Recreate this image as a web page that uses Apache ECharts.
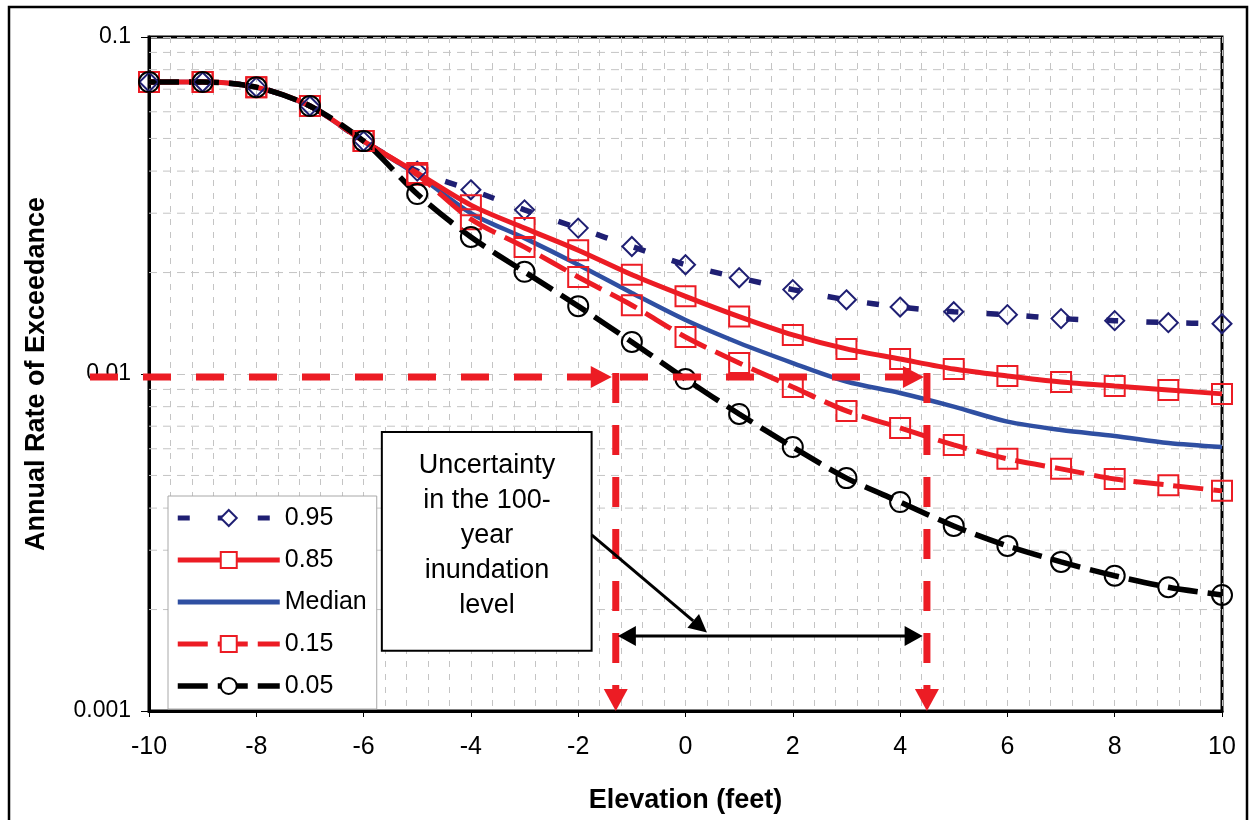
<!DOCTYPE html>
<html>
<head>
<meta charset="utf-8">
<script src="https://cdn.jsdelivr.net/npm/echarts@6/dist/echarts.min.js"></script>
<style>
  html, body { margin: 0; padding: 0; background: #fff; }
  #chart { width: 1257px; height: 820px; }
</style>
</head>
<body>
<div id="chart"></div>
<script>
// Elevation (feet) at which each exceedance curve is sampled
const elevation = [-10, -9, -8, -7, -6, -5, -4, -3, -2, -1, 0, 1, 2, 3, 4, 5, 6, 7, 8, 9, 10];

// Annual rate of exceedance for each confidence level
const p95 = [0.0735, 0.0735, 0.0710, 0.0624, 0.0491, 0.0400, 0.0352, 0.0307, 0.0271, 0.0239, 0.0211,
             0.0193, 0.0178, 0.0166, 0.0158, 0.0153, 0.0150, 0.0146, 0.0144, 0.0142, 0.0141];
const p85 = [0.0735, 0.0735, 0.0710, 0.0624, 0.0491, 0.0395, 0.0317, 0.0271, 0.0233, 0.0197, 0.0170,
             0.0148, 0.01306, 0.01187, 0.01108, 0.01035, 0.00987, 0.00947, 0.00921, 0.00897, 0.00873];
const median = [0.0735, 0.0735, 0.0708, 0.0622, 0.0490, 0.0390, 0.0300, 0.0253, 0.0211, 0.0174, 0.01446,
                0.01236, 0.01078, 0.0095, 0.00878, 0.0080, 0.00722, 0.00682, 0.00655, 0.00624, 0.00607];
const p15 = [0.0735, 0.0735, 0.0710, 0.0624, 0.0491, 0.0390, 0.0288, 0.0238, 0.0194, 0.0160, 0.01288,
             0.01078, 0.00915, 0.00777, 0.00692, 0.00616, 0.0056, 0.00523, 0.00488, 0.00468, 0.0045];
const p05 = [0.0735, 0.0735, 0.0710, 0.0624, 0.0491, 0.0342, 0.0255, 0.0201, 0.0159, 0.01245, 0.00966,
             0.00761, 0.00607, 0.00491, 0.00417, 0.00354, 0.00309, 0.00277, 0.00252, 0.00233, 0.00221];

const seriesNames = ['0.95', '0.85', 'Median', '0.15', '0.05'];

// Axis ticks and log-scale minor grid levels
const xTicks = [-10, -8, -6, -4, -2, 0, 2, 4, 6, 8, 10];
const yTicks = [0.001, 0.01, 0.1];
const minorLevels = [0.002, 0.003, 0.004, 0.005, 0.006, 0.007, 0.008, 0.009,
                     0.02, 0.03, 0.04, 0.05, 0.06, 0.07, 0.08, 0.09];

// 100-year event and the elevation range it spans across the curves
const hundredYearRate = 0.0098;
const rangeBounds = [-1.3, 4.5];
const noteLines = ['Uncertainty', 'in the 100-', 'year', 'inundation', 'level'];

const X_MIN = xTicks[0], X_MAX = xTicks[xTicks.length - 1];
const Y_MIN = yTicks[0], Y_MAX = yTicks[yTicks.length - 1];

const FONT = '"Liberation Sans", Arial, Helvetica, sans-serif';
const RED = '#ec1c24';
const NAVY = '#1f1f73';
const BLUE = '#2f4fa2';
const GRID = '#c4c4c4';
const CLEAR = 'rgba(255,255,255,0)';

function pairs(values) {
  return elevation.map((x, i) => [x, values[i]]);
}

function curve(name, values, color, width, dash, symbol, size) {
  return {
    type: 'line',
    name: name,
    data: pairs(values),
    smooth: 0.3,
    z: 3,
    symbol: symbol,
    symbolSize: size,
    showSymbol: symbol !== 'none',
    lineStyle: { color: color, width: width, type: dash, cap: 'butt' },
    itemStyle: { color: CLEAR, borderColor: color, borderWidth: 2 },
    emphasis: { disabled: true }
  };
}

function arrowHead(tip, from, len, half) {
  const dx = tip[0] - from[0], dy = tip[1] - from[1];
  const d = Math.sqrt(dx * dx + dy * dy) || 1;
  const ux = dx / d, uy = dy / d;
  const bx = tip[0] - ux * len, by = tip[1] - uy * len;
  return [tip, [bx - uy * half, by + ux * half], [bx + uy * half, by - ux * half]];
}

// Dashed grey minor grid at 2..9 of each decade
function renderMinorGrid(params, api) {
  const y = api.value(1);
  const a = api.coord([X_MIN, y]);
  const b = api.coord([X_MAX, y]);
  return {
    type: 'line',
    silent: true,
    shape: { x1: a[0], y1: a[1], x2: b[0], y2: b[1] },
    style: { stroke: GRID, lineWidth: 1, lineDash: [8, 6] }
  };
}

// Red 100-year guide lines, uncertainty range arrow and the note box
function renderAnnotation(params, api) {
  const c = (x, y) => api.coord([x, y]);
  const children = [];
  const hy = c(0, hundredYearRate)[1];
  const bottomY = c(0, Y_MIN)[1];
  const loX = c(rangeBounds[0], hundredYearRate)[0];
  const hiX = c(rangeBounds[1], hundredYearRate)[0];
  const startX = c(-11.1, hundredYearRate)[0];

  // horizontal dashed line to the upper bound
  children.push({
    type: 'line',
    shape: { x1: startX, y1: hy, x2: hiX - 20, y2: hy },
    style: { stroke: RED, lineWidth: 7, lineDash: [28, 25] }
  });
  // right-pointing heads where the line meets each bound
  [loX - 4, hiX - 3].forEach(tx => {
    children.push({
      type: 'polygon',
      shape: { points: arrowHead([tx, hy], [tx - 30, hy], 21, 11) },
      style: { fill: RED }
    });
  });
  // vertical dashed drops to the elevation axis
  [loX, hiX].forEach(vx => {
    children.push({
      type: 'line',
      shape: { x1: vx, y1: hy - 4, x2: vx, y2: bottomY - 20 },
      style: { stroke: RED, lineWidth: 7, lineDash: [30, 22] }
    });
    children.push({
      type: 'polygon',
      shape: { points: arrowHead([vx, bottomY], [vx, bottomY - 30], 22, 12) },
      style: { fill: RED }
    });
  });

  // double-headed range arrow
  const arrowRate = 0.00167;
  const a1 = c(rangeBounds[0] + 0.04, arrowRate);
  const a2 = c(rangeBounds[1] - 0.08, arrowRate);
  children.push({
    type: 'line',
    shape: { x1: a1[0] + 14, y1: a1[1], x2: a2[0] - 14, y2: a2[1] },
    style: { stroke: '#000', lineWidth: 3 }
  });
  children.push({ type: 'polygon', shape: { points: arrowHead(a1, a2, 18, 10) }, style: { fill: '#000' } });
  children.push({ type: 'polygon', shape: { points: arrowHead(a2, a1, 18, 10) }, style: { fill: '#000' } });

  // note box
  const b1 = c(-5.66, 0.00673);
  const b2 = c(-1.75, 0.00151);
  children.push({
    type: 'rect',
    shape: { x: b1[0], y: b1[1], width: b2[0] - b1[0], height: b2[1] - b1[1] },
    style: { fill: '#fff', stroke: '#000', lineWidth: 2 }
  });
  const tc = c(-3.70, 0.00332);
  children.push({
    type: 'text',
    x: tc[0], y: tc[1],
    style: {
      text: noteLines.join('\n'),
      fill: '#000',
      font: '27px ' + FONT,
      lineHeight: 35,
      align: 'center',
      verticalAlign: 'middle'
    }
  });

  // pointer from the box to the range arrow
  const p1 = c(-1.75, 0.00333);
  const p2 = c(0.40, 0.00171);
  const head = arrowHead(p2, p1, 18, 9);
  children.push({
    type: 'line',
    shape: { x1: p1[0], y1: p1[1], x2: (head[1][0] + head[2][0]) / 2, y2: (head[1][1] + head[2][1]) / 2 },
    style: { stroke: '#000', lineWidth: 3 }
  });
  children.push({ type: 'polygon', shape: { points: head }, style: { fill: '#000' } });

  return { type: 'group', children: children };
}

const chart = echarts.init(document.getElementById('chart'), null, { renderer: 'canvas' });

const legendLine = { width: 5 };

chart.setOption({
  animation: false,
  backgroundColor: '#fff',
  textStyle: { fontFamily: FONT },
  grid: {
    left: 149, right: 35, top: 37, bottom: 109,
    show: true, borderColor: '#000', borderWidth: 3, backgroundColor: 'transparent'
  },
  legend: {
    orient: 'vertical',
    left: 168, top: 496,
    backgroundColor: '#fff',
    borderColor: '#a8a8a8', borderWidth: 1, borderRadius: 0,
    padding: [8, 10, 9, 7],
    itemGap: 14,
    itemWidth: 102, itemHeight: 20,
    selectedMode: false,
    z: 6,
    textStyle: { fontFamily: FONT, fontSize: 25, color: '#000', lineHeight: 28 },
    data: [
      { name: seriesNames[0], itemStyle: { color: '#fff' }, lineStyle: legendLine },
      { name: seriesNames[1], itemStyle: { color: '#fff' }, lineStyle: legendLine },
      { name: seriesNames[2], itemStyle: { opacity: 0 }, lineStyle: legendLine },
      { name: seriesNames[3], itemStyle: { color: '#fff' }, lineStyle: legendLine },
      { name: seriesNames[4], itemStyle: { color: '#fff' }, lineStyle: { width: 5.5 } }
    ]
  },
  xAxis: {
    type: 'value',
    min: X_MIN, max: X_MAX, interval: 2,
    name: 'Elevation (feet)',
    nameLocation: 'middle',
    nameGap: 76,
    nameTextStyle: { fontFamily: FONT, fontSize: 27, fontWeight: 'bold', color: '#000' },
    axisLine: { show: true, onZero: false, lineStyle: { color: '#000', width: 3 } },
    axisTick: { show: true, length: 6, lineStyle: { color: '#000', width: 1 } },
    axisLabel: { fontFamily: FONT, fontSize: 25, color: '#000', margin: 24 },
    splitLine: { show: true, lineStyle: { color: GRID, width: 1, type: [6, 7] } },
    minorTick: { show: false, splitNumber: 5 },
    minorSplitLine: { show: true, lineStyle: { color: GRID, width: 1, type: [6, 7] } }
  },
  yAxis: {
    type: 'log',
    logBase: 10,
    min: Y_MIN, max: Y_MAX,
    name: 'Annual Rate of Exceedance',
    nameLocation: 'middle',
    nameGap: 99,
    nameTextStyle: { fontFamily: FONT, fontSize: 27, fontWeight: 'bold', color: '#000' },
    axisLine: { show: true, onZero: false, lineStyle: { color: '#000', width: 3 } },
    axisTick: { show: true, length: 8, lineStyle: { color: '#000', width: 1 } },
    axisLabel: {
      fontFamily: FONT, fontSize: 23, color: '#000', margin: 18,
      formatter: v => String(Number(Number(v).toPrecision(1)))
    },
    splitLine: { show: true, lineStyle: { color: GRID, width: 1, type: [8, 6] } }
  },
  graphic: [{
    type: 'rect',
    silent: true,
    z: 100,
    shape: { x: 9, y: 7, width: 1238, height: 840 },
    style: { fill: 'none', stroke: '#000', lineWidth: 2.5 }
  }],
  series: [
    {
      type: 'custom',
      name: 'minor grid',
      coordinateSystem: 'cartesian2d',
      silent: true,
      z: 1,
      renderItem: renderMinorGrid,
      data: minorLevels.map(v => [X_MIN, v]),
      encode: { x: 0, y: 1 }
    },
    curve(seriesNames[2], median, BLUE, 4.5, 'solid', 'none', 0),
    curve(seriesNames[0], p95, NAVY, 5.5, [12, 28], 'diamond', 19),
    curve(seriesNames[1], p85, RED, 5, 'solid', 'rect', 20),
    curve(seriesNames[3], p15, RED, 5, [30, 10], 'rect', 20),
    curve(seriesNames[4], p05, '#000', 5.5, [30, 10], 'circle', 20),
    {
      type: 'custom',
      name: 'annotation',
      coordinateSystem: 'cartesian2d',
      silent: true,
      clip: false,
      z: 4,
      renderItem: renderAnnotation,
      data: [[0, hundredYearRate]],
      encode: { x: 0, y: 1 }
    }
  ]
});
</script>
</body>
</html>
